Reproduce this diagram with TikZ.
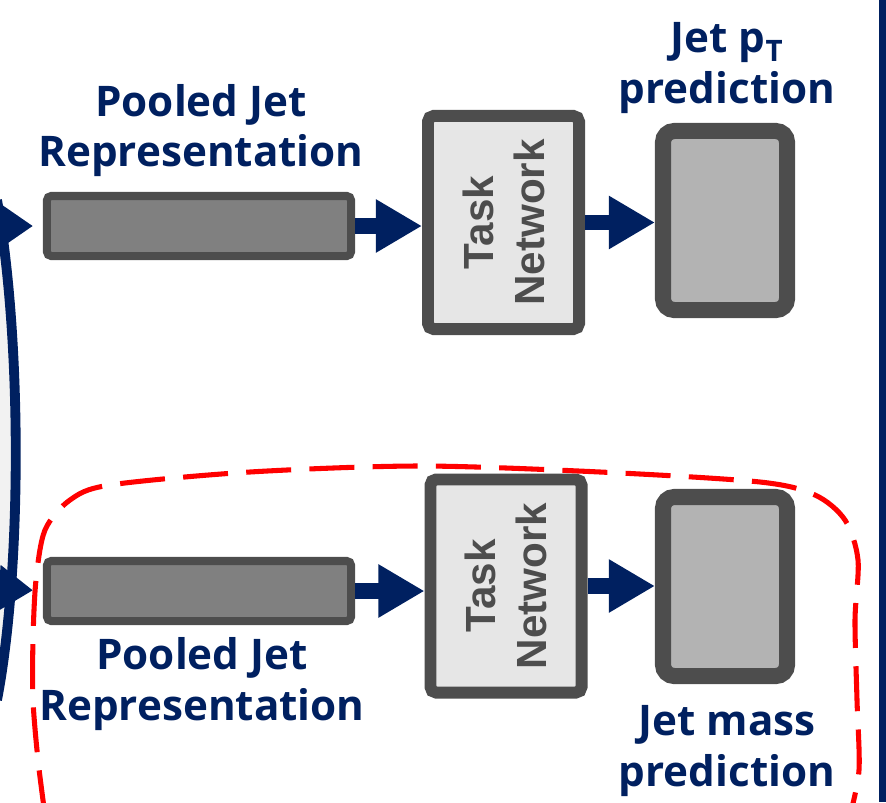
\documentclass[tikz,border=0pt]{standalone}
\usepackage{fontspec}
\setmainfont{Open Sans}
\newfontfamily\netfont{Liberation Sans}
\usetikzlibrary{arrows.meta,positioning,calc}
\definecolor{navy}{HTML}{002060}
\definecolor{edgegray}{HTML}{4D4D4D}
\definecolor{barfill}{HTML}{808080}
\definecolor{netfill}{HTML}{E6E6E6}
\definecolor{outfill}{HTML}{B3B3B3}
\definecolor{panelbg}{HTML}{F2F2F2}

\begin{document}
\begin{tikzpicture}[x=0.025cm, y=-0.025cm,
    rep/.style={draw=edgegray, fill=barfill, line width=5.7pt, rounded corners=3pt,
                minimum width=7.6cm, minimum height=1.5cm, inner sep=0pt},
    net/.style={draw=edgegray, fill=netfill, line width=8.5pt, rounded corners=4pt,
                minimum width=3.775cm, minimum height=5.325cm, inner sep=0pt},
    nettext/.style={rotate=90, font=\netfont\bfseries\fontsize{30}{36.3}\selectfont,
                    text=edgegray, align=center, inner sep=0pt},
    outbox/.style={draw=edgegray, fill=outfill, line width=11.4pt, rounded corners=8pt,
                minimum width=3.1cm, minimum height=4.475cm, inner sep=0pt},
    lbl/.style={font=\bfseries\fontsize{30}{35.6}\selectfont, text=navy,
                align=center, inner sep=0pt},
    flow/.style={draw=navy, line width=11pt, -{Triangle[length=1.15cm, width=1.25cm]}},
    feed/.style={draw=navy, line width=7pt, shorten >=0.25cm,
                 -{Triangle[length=0.85cm, width=1.1cm]}}
  ]
  \useasboundingbox (0,0) rectangle (886,802);
  \clip (0,0) rectangle (886,802);

  % shared encoder panel on the left and frame on the right
  \fill[panelbg] (-10,150) -- (-3,200) .. controls (22,340) and (22,570) .. (-3,700)
    -- (-10,750) -- cycle;
  \draw[navy, line width=7pt] (-3,200) .. controls (22,340) and (22,570) .. (-3,700);
  \fill[navy] (879,0) rectangle (886,802);

  % upper head: jet pT
  \node[rep] (bar1) at (199,226) {};
  \node[net] (tn1) at (503.5,222.5) {};
  \node[nettext] (tn1txt) at (tn1.center) {Task\\Network};
  \node[outbox] (pred1) at (725,220.5) {};
  \node[lbl] (bar1lbl) at (201,131) {Pooled Jet\\Representation};
  \node[lbl] (pred1lbl) at (727,68) {Jet p\textsubscript{T}\\prediction};

  % lower head: jet mass
  \node[rep] (bar2) at (199,591) {};
  \node[net] (tn2) at (506,586) {};
  \node[nettext] (tn2txt) at (tn2.center) {Task\\Network};
  \node[outbox] (pred2) at (725,586.5) {};
  \node[lbl] (bar2lbl) at (202,684) {Pooled Jet\\Representation};
  \node[lbl] (pred2lbl) at (727,751) {Jet mass\\prediction};

  \coordinate (in1) at (-2,226);
  \coordinate (in2) at (-2,588);
  \draw[feed] (in1) -- (bar1.west);
  \draw[feed] (in2) -- (bar2.west);

  \draw[flow] (bar1.east) -- (bar1.east -| tn1.west);
  \draw[flow] (tn1.east) -- (tn1.east -| pred1.west);
  \draw[flow] (bar2.east) -- (bar2.east -| tn2.west);
  \draw[flow] (tn2.east) -- (tn2.east -| pred2.west);

  % highlighted mass head
  \draw[red, line width=3.6pt, dash pattern=on 32pt off 13pt]
    plot[smooth] coordinates {(45,815) (38,760) (33,700) (33,640) (36,580) (45,530)
      (70,500) (110,485) (250,472) (420,466) (600,472) (760,482) (815,495) (845,520)
      (858,560) (855,620) (857,700) (859,770) (850,815)};
\end{tikzpicture}
\end{document}
